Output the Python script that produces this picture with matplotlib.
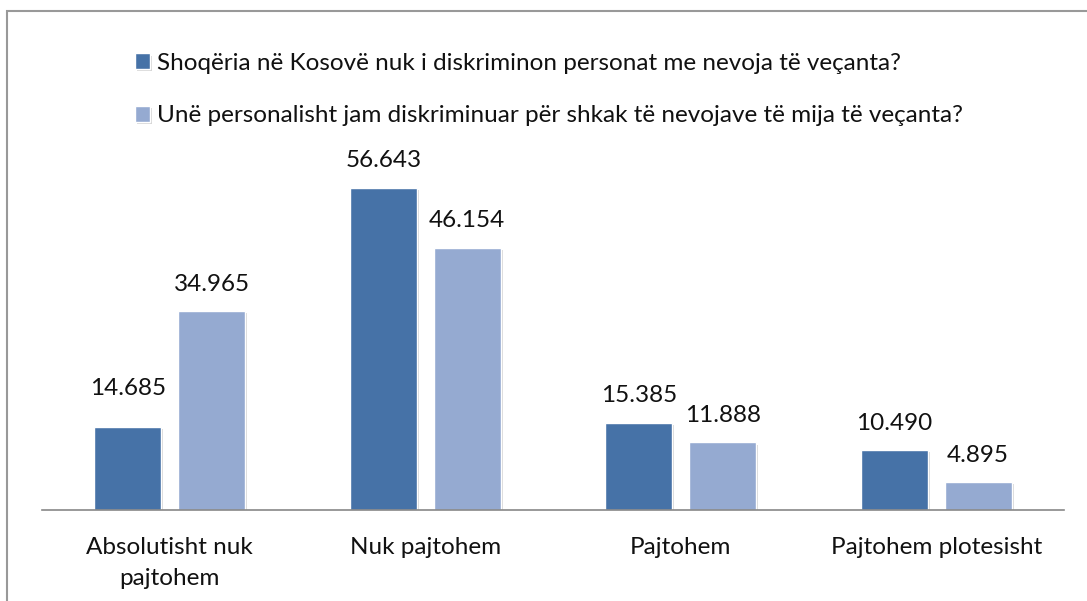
import matplotlib.pyplot as plt
import matplotlib.patheffects as pe
from matplotlib.patches import Rectangle
import numpy as np

plt.rcParams['font.family'] = ['Lato', 'DejaVu Sans']

categories = ['Absolutisht nuk\npajtohem', 'Nuk pajtohem', 'Pajtohem', 'Pajtohem plotesisht']
series_names = ['Shoqëria në Kosovë nuk i diskriminon personat me nevoja të veçanta?',
                'Unë personalisht jam diskriminuar për shkak të nevojave të mija të veçanta?']
society = [14.685, 56.643, 15.385, 10.490]
personal = [34.965, 46.154, 11.888, 4.895]
colors = ['#4672A7', '#95AAD1']
# label gap above each bar, in points (the first label sits a bit higher)
label_pads = [[20, 12, 12, 12], [12, 12, 12, 12]]

fig = plt.figure(figsize=(10.87, 6.01), dpi=100)
ax = fig.add_axes([42 / 1087, 1 - 510 / 601, 1022 / 1087, 341 / 601])

x = np.arange(len(categories))
width = 0.262
offset = 0.164
shadow = [pe.SimplePatchShadow(offset=(1.5, -1.5), shadow_rgbFace='#bbbbbb', alpha=0.6), pe.Normal()]

for vals, dx, col, name, pads in [(society, -offset, colors[0], series_names[0], label_pads[0]),
                                  (personal, offset, colors[1], series_names[1], label_pads[1])]:
    bars = ax.bar(x + dx, vals, width, color=col, edgecolor='white', linewidth=1.0, label=name)
    for b in bars:
        b.set_path_effects(shadow)
    for xi, v, p in zip(x + dx, vals, pads):
        ax.annotate(f'{v:.3f}', (xi, v), xytext=(0, p), textcoords='offset points',
                    ha='center', va='bottom', fontsize=17.5, color='#111111', annotation_clip=False)

ax.set_xlim(-0.5, 3.5)
ax.set_ylim(0, 60)
ax.set_yticks([])
ax.set_xticks(x)
ax.set_xticklabels(categories, fontsize=17.5, color='#111111', linespacing=1.6)
ax.tick_params(axis='x', length=0, pad=19.5)
for s in ['top', 'right', 'left']:
    ax.spines[s].set_visible(False)
ax.spines['bottom'].set_color('#888888')
ax.spines['bottom'].set_linewidth(1.2)

# legend placed at the top
handles, labels = ax.get_legend_handles_labels()
fig.legend(handles, labels, loc='upper left', bbox_to_anchor=(113 / 1087, 1 - 31 / 601),
           frameon=False, fontsize=17.5, handlelength=0.62, handleheight=0.62,
           handletextpad=0.3, labelspacing=1.3, labelcolor='#111111')

# outer chart border
fig.patches.append(Rectangle((7 / 1087, -0.05), 1.1, 1 - 11 / 601 + 0.05, transform=fig.transFigure,
                             fill=False, edgecolor='#999999', linewidth=1.5))

fig.savefig('out.png', dpi=100)
